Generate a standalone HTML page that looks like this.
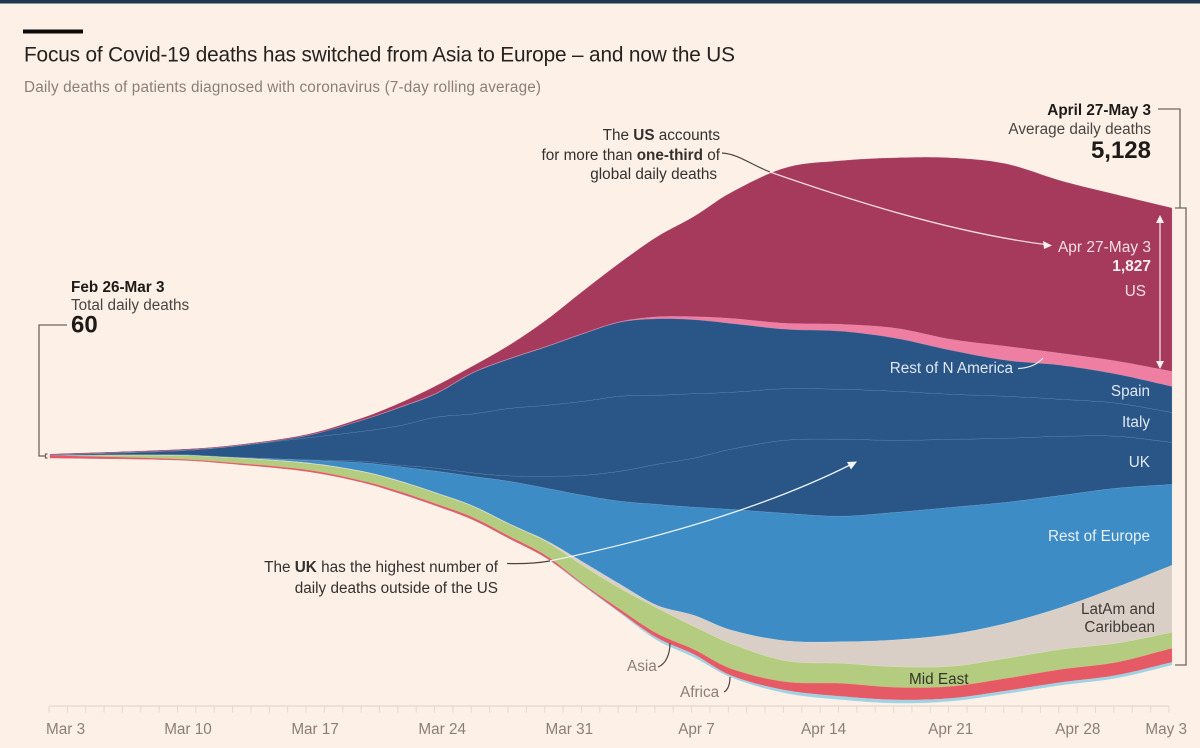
<!DOCTYPE html>
<html lang="en">
<head>
<meta charset="utf-8">
<title>Focus of Covid-19 deaths</title>
<style>
html,body{margin:0;padding:0;background:#fdf1e7;}
svg{display:block;font-family:"Liberation Sans",sans-serif;}
.dk{fill:#33302e;}
.gr{fill:#8a7f78;}
.lt{fill:#dfe8f1;}
.ltp{fill:#f6dfe4;}
</style>
</head>
<body>
<svg id="chart" width="1200" height="748" viewBox="0 0 1200 748" xmlns="http://www.w3.org/2000/svg">
  <rect x="0" y="0" width="1200" height="748" fill="#fdf1e7"/>
  <rect x="0" y="0" width="1200" height="3.5" fill="#1f3550"/>
  <rect x="23" y="29.5" width="60" height="4" fill="#0c0b0a"/>
  <text x="24" y="61.500" font-size="20.8" fill="#26221f" textLength="711" lengthAdjust="spacing">Focus of Covid-19 deaths has switched from Asia to Europe – and now the US</text>
  <text x="24" y="92" font-size="15.3" class="gr" textLength="517" lengthAdjust="spacing">Daily deaths of patients diagnosed with coronavirus (7-day rolling average)</text>

  <g id="layers"></g>
  <g id="axis"></g>

  <g>
    <path d="M67 325H39V456H45M47.500 454H45.500V458H47.500" fill="none" stroke="#6f6660" stroke-width="1.300"/>
    <text x="71" y="292" font-size="15.3" font-weight="bold" fill="#1d1a18">Feb 26-Mar 3</text>
    <text x="71" y="310" font-size="15.3" fill="#4a4440">Total daily deaths</text>
    <text x="71" y="332.500" font-size="24" font-weight="bold" fill="#1d1a18">60</text>
  </g>

  <g>
    <path d="M1158 109H1180V208M1175 208H1186V665H1175" fill="none" stroke="#6f6660" stroke-width="1.300"/>
    <text x="1151" y="115" font-size="15.3" font-weight="bold" text-anchor="end" fill="#1d1a18">April 27-May 3</text>
    <text x="1151" y="134" font-size="15.3" text-anchor="end" fill="#4a4440">Average daily deaths</text>
    <text x="1151" y="158" font-size="24" font-weight="bold" text-anchor="end" fill="#1d1a18">5,128</text>
  </g>

  <g>
    <text x="720" y="140" font-size="15.3" text-anchor="end" fill="#33302e">The <tspan font-weight="bold">US</tspan> accounts</text>
    <text x="720" y="160" font-size="15.3" text-anchor="end" fill="#33302e">for more than <tspan font-weight="bold">one-third</tspan> of</text>
    <text x="717" y="179" font-size="15.3" text-anchor="end" fill="#33302e">global daily deaths</text>
    <path d="M722 153C738 154 750 164 770 172" fill="none" stroke="#4a4440" stroke-width="1.200"/>
    <path d="M770 172C850 200 950 232 1045 244.500" fill="none" stroke="#f6d9e0" stroke-width="1.300"/>
    <path d="M1052 245.500L1043 241L1044 249Z" fill="#fbeef0"/>
    <text x="1151" y="252" font-size="15.5" text-anchor="end" class="ltp">Apr 27-May 3</text>
    <text x="1151" y="271" font-size="15.5" font-weight="bold" text-anchor="end" fill="#fbeef0">1,827</text>
    <text x="1146" y="296" font-size="15.3" text-anchor="end" class="ltp">US</text>
    <path d="M1160 222V362" stroke="#f6d9e0" stroke-width="1.300"/>
    <path d="M1160 215L1156 223H1164Z" fill="#fbeef0"/>
    <path d="M1160 369L1156 361H1164Z" fill="#fbeef0"/>
  </g>

  <g>
    <text x="1013" y="373" font-size="15.3" text-anchor="end" class="lt">Rest of N America</text>
    <path d="M1018 368.500C1029 368 1037 365 1043 358" fill="none" stroke="#e8eef4" stroke-width="1.200"/>
    <text x="1150" y="396" font-size="15.3" text-anchor="end" class="lt">Spain</text>
    <text x="1150" y="427" font-size="15.3" text-anchor="end" class="lt">Italy</text>
    <text x="1150" y="467" font-size="15.3" text-anchor="end" class="lt">UK</text>
    <text x="1150" y="541" font-size="15.3" text-anchor="end" fill="#e6f0f8">Rest of Europe</text>
    <text x="1155" y="614" font-size="15.3" text-anchor="end" fill="#3f3a37">LatAm and</text>
    <text x="1155" y="632" font-size="15.3" text-anchor="end" fill="#3f3a37">Caribbean</text>
    <text x="909" y="684" font-size="15.3" fill="#33352a">Mid East</text>
    <text x="627" y="671" font-size="15.3" class="gr">Asia</text>
    <path d="M670 643C670 654 666 664 658 667" fill="none" stroke="#4a4440" stroke-width="1.200"/>
    <text x="680" y="697" font-size="15.3" class="gr">Africa</text>
    <path d="M730 677C730 684 728 690 724 692" fill="none" stroke="#4a4440" stroke-width="1.200"/>
  </g>

  <g>
    <text x="498" y="572" font-size="15.3" text-anchor="end" fill="#33302e">The <tspan font-weight="bold">UK</tspan> has the highest number of</text>
    <text x="498" y="593" font-size="15.3" text-anchor="end" fill="#33302e">daily deaths outside of the US</text>
    <path d="M507 563.500C525 564 538 563 550 561" fill="none" stroke="#4a4440" stroke-width="1.200"/>
    <path d="M550 561C650 540 760 510 850 465" fill="none" stroke="#e9f2f8" stroke-width="1.300"/>
    <path d="M857 461.500L847 462L851 469.500Z" fill="#f4f8fb"/>
  </g>
</svg>
<script>
// Sampled dates, as days after Mar 3
const days = [0, 7, 10, 14, 17, 19, 21, 23, 25, 27, 29, 31, 33, 35, 37, 40, 43, 46, 49, 52, 55, 58, 61];
// Daily deaths by region (7-day rolling average)
const africa = [0, 0, 0, 1, 2, 3, 3, 4, 4, 6, 11, 11, 28, 34, 22, 34, 39, 39, 34, 34, 34, 34, 34];
const asia = [34, 15, 17, 21, 20, 25, 25, 29, 29, 28, 17, 34, 50, 56, 78, 95, 146, 140, 134, 140, 146, 146, 157];
const midEast = [0, 41, 56, 73, 101, 112, 118, 123, 134, 157, 202, 235, 286, 258, 280, 235, 224, 230, 224, 224, 224, 213, 179];
const latAm = [0, 2, 3, 6, 6, 6, 6, 6, 6, 11, 39, 45, 28, 123, 151, 224, 241, 302, 358, 392, 470, 627, 750];
const restOfEurope = [0, 3, 2, 28, 95, 157, 241, 330, 476, 588, 750, 930, 1131, 1210, 1350, 1428, 1406, 1428, 1422, 1355, 1254, 1109, 907];
const uk = [0, 3, 3, 6, 17, 17, 34, 39, 62, 134, 224, 336, 448, 549, 672, 818, 862, 806, 762, 717, 661, 582, 470];
const italy = [2, 41, 121, 246, 336, 442, 571, 661, 756, 795, 829, 840, 773, 722, 638, 577, 560, 549, 504, 470, 414, 370, 336];
const spain = [2, 8, 3, 26, 125, 202, 263, 459, 554, 655, 756, 829, 857, 829, 773, 666, 650, 594, 493, 403, 381, 325, 291];
const restOfNAmerica = [1, 1, 1, 2, 3, 6, 6, 6, 6, 6, 6, 6, 22, 34, 56, 67, 78, 112, 123, 157, 134, 146, 168];
const us = [2, 2, 2, 6, 17, 39, 78, 67, 146, 291, 470, 655, 890, 1114, 1400, 1736, 1826, 1904, 2027, 2038, 1926, 1859, 1826];
// Deaths stacked below the stream's centre line
const belowCentre = [22, 45, 90, 174, 297, 420, 560, 717, 930, 1148, 1456, 1758, 2061, 2251, 2475, 2654, 2727, 2766, 2744, 2660, 2565, 2486, 2341];
// Axis
const tickLabels = ["Mar 3", "Mar 10", "Mar 17", "Mar 24", "Mar 31", "Apr 7", "Apr 14", "Apr 21", "Apr 28", "May 3"];
const tickLabelDays = [0, 7, 14, 21, 28, 35, 42, 49, 56, 61];
const totalDays = 61;

const xScale = function (day) { return 50 + day * 18.39; };
const yScale = function (v) { return 456 - v / 11.2; };
const tickX = function (day) { return 49 + day * 18.36; };
const labelX = function (day) { return 188 + (day - 7) * 18.16; };

const layerNames = ["africa", "asia", "mid-east", "latam-caribbean", "rest-of-europe", "uk", "italy", "spain", "rest-of-n-america", "us"];
const layerValues = [africa, asia, midEast, latAm, restOfEurope, uk, italy, spain, restOfNAmerica, us];
const layerFills = ["#9fd2e4", "#e55a65", "#b3cc7f", "#d9cfc6", "#3e8cc5", "#2a5587", "#2a5587", "#2a5587", "#ee7ea2", "#a53a5c"];
const edgeStrokes = ["rgba(255,255,255,.25)", "rgba(255,240,200,.45)", "rgba(255,250,220,.6)", "rgba(255,255,255,.5)", "rgba(180,210,235,.65)", "#7fa3c8", "#7fa3c8", "rgba(255,255,255,.35)", "rgba(255,255,255,.2)", "none"];

const NS = "http://www.w3.org/2000/svg";
const layersGroup = document.getElementById("layers");
const axisGroup = document.getElementById("axis");

function smoothEdge(vals) {
  const xs = days.map(xScale);
  const ys = vals.map(yScale);
  const n = xs.length;
  const m = [];
  for (let i = 0; i < n; i++) {
    const a = Math.max(i - 1, 0);
    const b = Math.min(i + 1, n - 1);
    m.push((ys[b] - ys[a]) / (xs[b] - xs[a]));
  }
  const pts = [];
  for (let i = 0; i < n - 1; i++) {
    const h = xs[i + 1] - xs[i];
    const steps = Math.max(2, Math.round(h / 5));
    for (let s = 0; s < steps; s++) {
      const t = s / steps;
      const t2 = t * t;
      const t3 = t2 * t;
      const y = (2 * t3 - 3 * t2 + 1) * ys[i] + (t3 - 2 * t2 + t) * h * m[i] + (-2 * t3 + 3 * t2) * ys[i + 1] + (t3 - t2) * h * m[i + 1];
      pts.push([xs[i] + t * h, y]);
    }
  }
  pts.push([xs[n - 1], ys[n - 1]]);
  return pts;
}
function toPath(pts) {
  return pts.map(function (p) { return p[0].toFixed(1) + " " + p[1].toFixed(1); }).join("L");
}

let lower = belowCentre.map(function (v) { return -v; });
layerValues.forEach(function (series, li) {
  const upper = lower.map(function (v, i) { return v + series[i]; });
  const upperPts = smoothEdge(upper);
  const lowerPts = smoothEdge(lower);
  const area = document.createElementNS(NS, "path");
  area.setAttribute("d", "M" + toPath(upperPts) + "L" + toPath(lowerPts.slice().reverse()) + "Z");
  area.setAttribute("fill", layerFills[li]);
  area.setAttribute("stroke", layerFills[li]);
  area.setAttribute("stroke-width", "0.4");
  
  
  layersGroup.appendChild(area);
  if (edgeStrokes[li] !== "none") {
    const edge = document.createElementNS(NS, "path");
    edge.setAttribute("d", "M" + toPath(upperPts));
    edge.setAttribute("fill", "none");
    edge.setAttribute("stroke", edgeStrokes[li]);
    edge.setAttribute("stroke-width", "1");
    
    
    layersGroup.appendChild(edge);
  }
  lower = upper;
});

const axisLine = document.createElementNS(NS, "line");
axisLine.setAttribute("x1", tickX(0));
axisLine.setAttribute("x2", tickX(totalDays));
axisLine.setAttribute("y1", 706);
axisLine.setAttribute("y2", 706);
axisLine.setAttribute("stroke", "#e2d8cd");
axisLine.setAttribute("stroke-width", "1.2");


axisGroup.appendChild(axisLine);

for (let d = 0; d <= totalDays; d++) {
  const tick = document.createElementNS(NS, "line");
  tick.setAttribute("x1", tickX(d));
  tick.setAttribute("x2", tickX(d));
  tick.setAttribute("y1", 706);
  tick.setAttribute("y2", 712.5);
  tick.setAttribute("stroke", "#e2d8cd");
  tick.setAttribute("stroke-width", "1");
  
  
  axisGroup.appendChild(tick);
}

tickLabels.forEach(function (label, i) {
  const t = document.createElementNS(NS, "text");
  const first = i === 0;
  const last = i === tickLabels.length - 1;
  t.setAttribute("x", first ? 46 : last ? 1187 : labelX(tickLabelDays[i]));
  t.setAttribute("y", 734);
  t.setAttribute("font-size", "15.3");
  t.setAttribute("fill", "#8a7f78");
  t.setAttribute("text-anchor", first ? "start" : last ? "end" : "middle");
  t.textContent = label;
  
  
  axisGroup.appendChild(t);
});
</script>
</body>
</html>
